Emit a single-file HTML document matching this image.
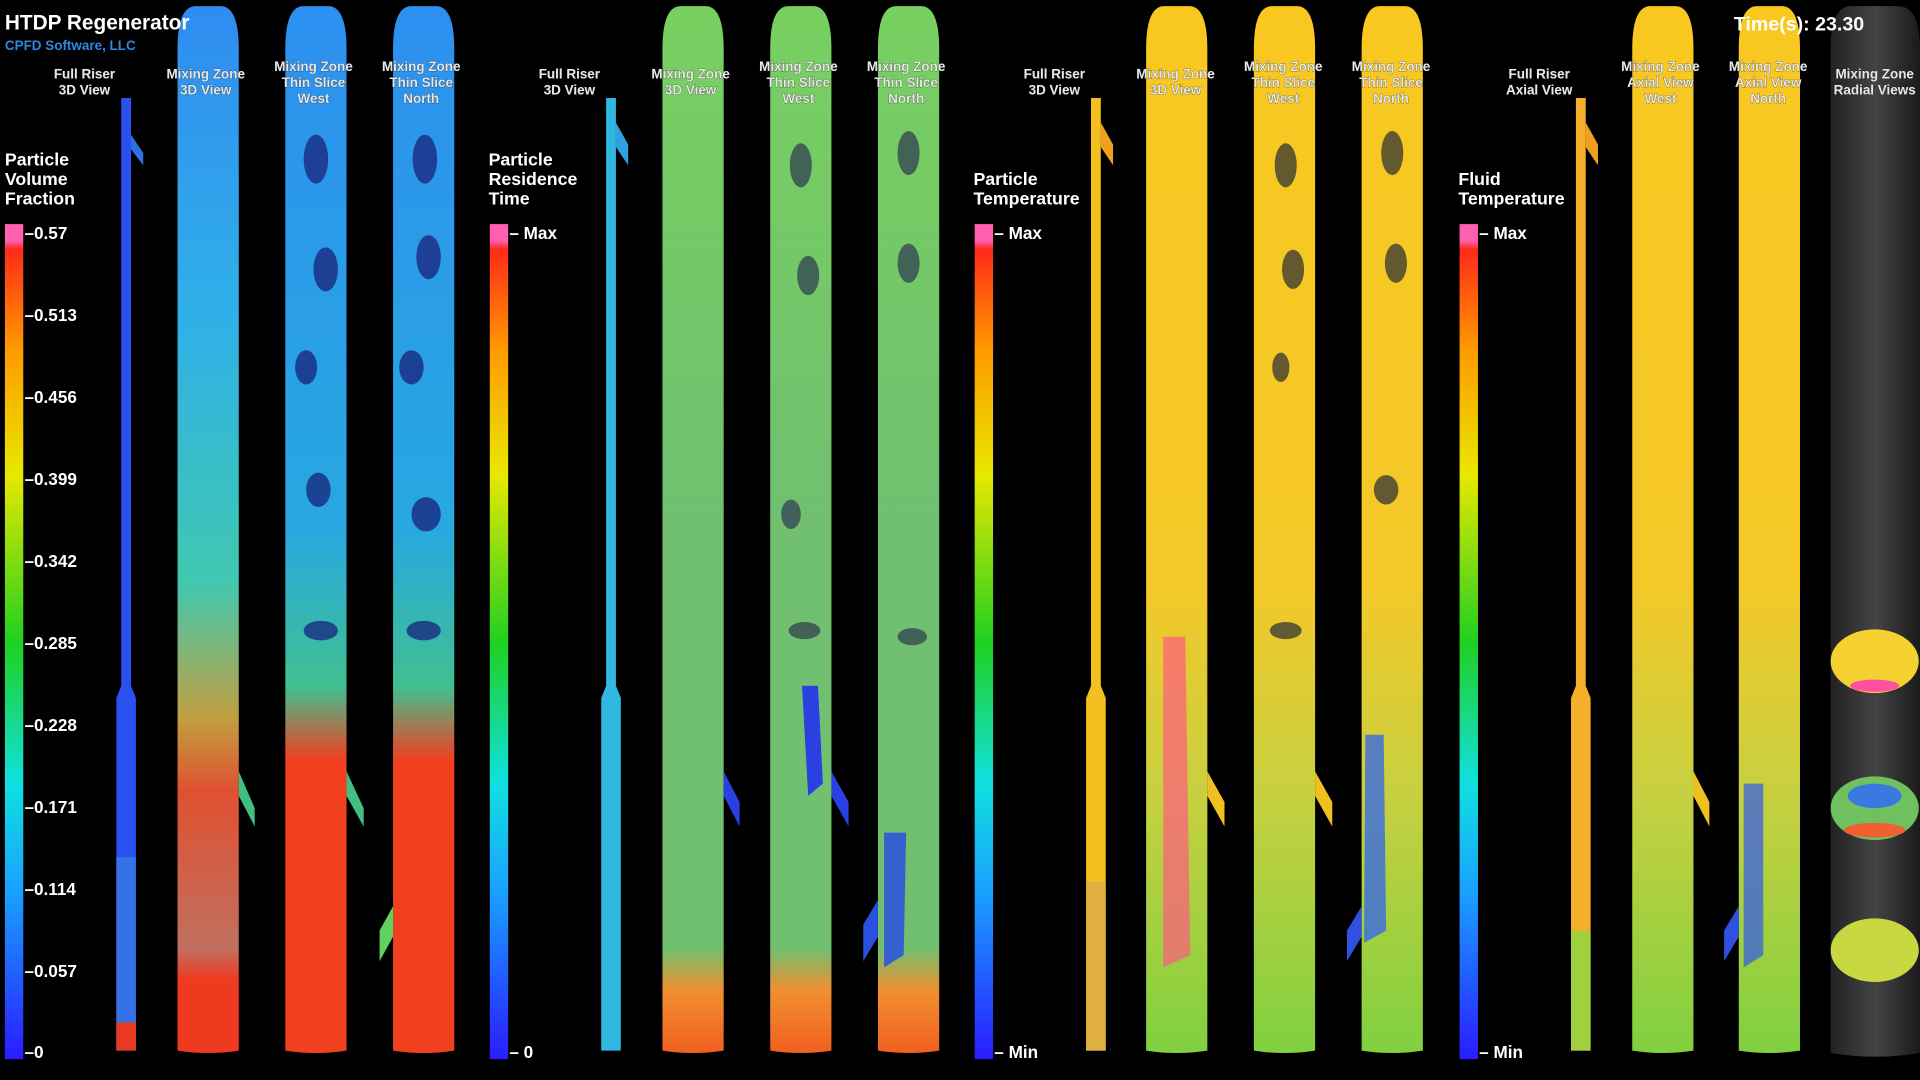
<!DOCTYPE html>
<html><head><meta charset="utf-8"><style>
html,body{margin:0;padding:0;background:#000;width:1920px;height:1080px;overflow:hidden}
svg{display:block}
text{font-family:"Liberation Sans",sans-serif;font-weight:bold;fill:#fff}
.l{font-size:11px;fill:#e8e8e8;text-anchor:middle;stroke:#222;stroke-width:0.4px;paint-order:stroke}
.t{font-size:14.5px}
.k{font-size:14px}
</style></head><body>
<svg width="1920" height="1080" viewBox="0 0 1568 882" preserveAspectRatio="none" xmlns="http://www.w3.org/2000/svg">
<defs>
<linearGradient id="cb" x1="0" y1="1" x2="0" y2="0">
<stop offset="0" stop-color="#2a1cff"/><stop offset="0.2" stop-color="#1aa0ff"/><stop offset="0.33" stop-color="#10e0e0"/><stop offset="0.5" stop-color="#20d020"/><stop offset="0.7" stop-color="#e8e800"/><stop offset="0.85" stop-color="#ff9a00"/><stop offset="0.97" stop-color="#ff2a1a"/><stop offset="0.98" stop-color="#ff60b0"/><stop offset="1" stop-color="#ff60b0"/>
</linearGradient>
<linearGradient id="g1a" x1="0" y1="0" x2="0" y2="1">
<stop offset="0" stop-color="#2f8cf0"/><stop offset="0.3" stop-color="#30b0e8"/><stop offset="0.55" stop-color="#40c8b0"/><stop offset="0.68" stop-color="#c0a040"/><stop offset="0.75" stop-color="#e05030"/><stop offset="0.9" stop-color="#c07060"/><stop offset="0.93" stop-color="#f03a20"/><stop offset="1" stop-color="#f03a20"/>
</linearGradient>
<linearGradient id="g1b" x1="0" y1="0" x2="0" y2="1">
<stop offset="0" stop-color="#2c90f0"/><stop offset="0.5" stop-color="#28a8e0"/><stop offset="0.65" stop-color="#40c090"/><stop offset="0.72" stop-color="#f04020"/><stop offset="1" stop-color="#f04020"/>
</linearGradient>
<linearGradient id="g2" x1="0" y1="0" x2="0" y2="1">
<stop offset="0" stop-color="#78d060"/><stop offset="0.5" stop-color="#70c070"/><stop offset="0.9" stop-color="#70c070"/><stop offset="0.94" stop-color="#f09030"/><stop offset="1" stop-color="#f06020"/>
</linearGradient>
<linearGradient id="g3" x1="0" y1="0" x2="0" y2="1">
<stop offset="0" stop-color="#f8c820"/><stop offset="0.55" stop-color="#f4c828"/><stop offset="0.75" stop-color="#c8d040"/><stop offset="1" stop-color="#80d040"/>
</linearGradient>
<linearGradient id="rad" x1="0" y1="0" x2="1" y2="0">
<stop offset="0" stop-color="#222"/><stop offset="0.5" stop-color="#444"/><stop offset="1" stop-color="#1a1a1a"/>
</linearGradient>
</defs>
<rect width="1568" height="882" fill="#000"/>

<rect x="4" y="183" width="15" height="682" fill="url(#cb)"/>
<rect x="400" y="183" width="15" height="682" fill="url(#cb)"/>
<rect x="796" y="183" width="15" height="682" fill="url(#cb)"/>
<rect x="1192" y="183" width="15" height="682" fill="url(#cb)"/>

<!-- group 1 columns -->
<path d="M99 80 L107 80 L107 560 L111 570 L111 858 L95 858 L95 570 L99 560 Z" fill="#2a50f0"/>
<rect x="95" y="700" width="16" height="158" fill="#3a80e0" opacity=".7"/>
<rect x="95" y="835" width="16" height="23" fill="#e83a20"/>
<path d="M107 110 L117 125 L117 135 L107 122Z" fill="#3070e0"/>
<path d="M145 858 L145 40 Q145 5 160 5 L180 5 Q195 5 195 40 L195 858 Q170 862 145 858Z" fill="url(#g1a)"/>
<path d="M233 858 L233 40 Q233 5 248 5 L268 5 Q283 5 283 40 L283 858 Q258 862 233 858Z" fill="url(#g1b)"/>
<path d="M321 858 L321 40 Q321 5 336 5 L356 5 Q371 5 371 40 L371 858 Q346 862 321 858Z" fill="url(#g1b)"/>
<g fill="#1a2a80" opacity=".8">
<ellipse cx="258" cy="130" rx="10" ry="20"/><ellipse cx="266" cy="220" rx="10" ry="18"/><ellipse cx="250" cy="300" rx="9" ry="14"/><ellipse cx="260" cy="400" rx="10" ry="14"/><ellipse cx="262" cy="515" rx="14" ry="8"/>
<ellipse cx="347" cy="130" rx="10" ry="20"/><ellipse cx="350" cy="210" rx="10" ry="18"/><ellipse cx="336" cy="300" rx="10" ry="14"/><ellipse cx="348" cy="420" rx="12" ry="14"/><ellipse cx="346" cy="515" rx="14" ry="8"/>
</g>
<path d="M195 630 L208 660 L208 675 L195 650Z" fill="#40c080"/><path d="M283 630 L297 660 L297 675 L283 650Z" fill="#40c080"/><path d="M321 740 L310 760 L310 785 L321 765Z" fill="#60d060"/>

<!-- group 2 -->
<path d="M495 80 L503 80 L503 560 L507 570 L507 858 L491 858 L491 570 L495 560 Z" fill="#30b8e0"/>
<path d="M503 100 L513 118 L513 135 L503 120Z" fill="#30a0e0"/>
<path d="M541 858 L541 40 Q541 5 556 5 L576 5 Q591 5 591 40 L591 858 Q566 862 541 858Z" fill="url(#g2)"/>
<path d="M629 858 L629 40 Q629 5 644 5 L664 5 Q679 5 679 40 L679 858 Q654 862 629 858Z" fill="url(#g2)"/>
<path d="M717 858 L717 40 Q717 5 732 5 L752 5 Q767 5 767 40 L767 858 Q742 862 717 858Z" fill="url(#g2)"/>
<g fill="#304050" opacity=".75">
<ellipse cx="654" cy="135" rx="9" ry="18"/><ellipse cx="660" cy="225" rx="9" ry="16"/><ellipse cx="646" cy="420" rx="8" ry="12"/><ellipse cx="657" cy="515" rx="13" ry="7"/>
<ellipse cx="742" cy="125" rx="9" ry="18"/><ellipse cx="742" cy="215" rx="9" ry="16"/><ellipse cx="745" cy="520" rx="12" ry="7"/>
</g>
<path d="M655 560 L668 560 L672 640 L660 650Z" fill="#2a40e0"/>
<path d="M722 680 L740 680 L738 780 L722 790Z" fill="#2a50e0" opacity=".85"/>
<path d="M591 630 L604 655 L604 675 L591 650Z" fill="#2a40e0"/><path d="M679 630 L693 655 L693 675 L679 650Z" fill="#2a40e0"/><path d="M717 735 L705 755 L705 785 L717 765Z" fill="#2a50e0"/>

<!-- group 3 -->
<path d="M891 80 L899 80 L899 560 L903 570 L903 858 L887 858 L887 570 L891 560 Z" fill="#f4c020"/>
<rect x="887" y="720" width="16" height="138" fill="#e0b040"/>
<path d="M899 100 L909 118 L909 135 L899 120Z" fill="#f0a020"/>
<path d="M936 858 L936 40 Q936 5 951 5 L971 5 Q986 5 986 40 L986 858 Q961 862 936 858Z" fill="url(#g3)"/>
<path d="M1024 858 L1024 40 Q1024 5 1039 5 L1059 5 Q1074 5 1074 40 L1074 858 Q1049 862 1024 858Z" fill="url(#g3)"/>
<path d="M1112 858 L1112 40 Q1112 5 1127 5 L1147 5 Q1162 5 1162 40 L1162 858 Q1137 862 1112 858Z" fill="url(#g3)"/>
<path d="M950 520 L968 520 L972 780 L950 790Z" fill="#ff5a80" opacity=".7"/>
<g fill="#333" opacity=".75">
<ellipse cx="1050" cy="135" rx="9" ry="18"/><ellipse cx="1056" cy="220" rx="9" ry="16"/><ellipse cx="1046" cy="300" rx="7" ry="12"/><ellipse cx="1050" cy="515" rx="13" ry="7"/>
<ellipse cx="1137" cy="125" rx="9" ry="18"/><ellipse cx="1140" cy="215" rx="9" ry="16"/><ellipse cx="1132" cy="400" rx="10" ry="12"/>
</g>
<path d="M1115 600 L1130 600 L1132 760 L1114 770Z" fill="#3a6ae0" opacity=".8"/>
<path d="M986 630 L1000 655 L1000 675 L986 650Z" fill="#f0c020"/><path d="M1074 630 L1088 655 L1088 675 L1074 650Z" fill="#f0c020"/><path d="M1112 740 L1100 760 L1100 785 L1112 765Z" fill="#3050e0"/>

<!-- group 4 -->
<path d="M1287 80 L1295 80 L1295 560 L1299 570 L1299 858 L1283 858 L1283 570 L1287 560 Z" fill="#f4b028"/>
<rect x="1283" y="760" width="16" height="98" fill="#a0d040"/>
<path d="M1295 100 L1305 118 L1305 135 L1295 120Z" fill="#f0a020"/>
<path d="M1333 858 L1333 40 Q1333 5 1348 5 L1368 5 Q1383 5 1383 40 L1383 858 Q1358 862 1333 858Z" fill="url(#g3)"/>
<path d="M1420 858 L1420 40 Q1420 5 1435 5 L1455 5 Q1470 5 1470 40 L1470 858 Q1445 862 1420 858Z" fill="url(#g3)"/>
<path d="M1424 640 L1440 640 L1440 780 L1424 790Z" fill="#3a60e0" opacity=".75"/>
<path d="M1383 630 L1396 655 L1396 675 L1383 650Z" fill="#f0c020"/><path d="M1420 740 L1408 760 L1408 785 L1420 765Z" fill="#3050e0"/>
<path d="M1495 860 L1495 40 Q1495 5 1512 5 L1550 5 Q1568 5 1568 40 L1568 860 Q1531 866 1495 860Z" fill="url(#rad)"/>
<ellipse cx="1531" cy="540" rx="36" ry="26" fill="#f4d030"/><ellipse cx="1531" cy="560" rx="20" ry="5" fill="#ff50a0"/>
<ellipse cx="1531" cy="660" rx="36" ry="26" fill="#70c060"/><ellipse cx="1531" cy="650" rx="22" ry="10" fill="#3a7ae0"/><ellipse cx="1531" cy="678" rx="25" ry="6" fill="#f06030"/>
<ellipse cx="1531" cy="776" rx="36" ry="26" fill="#c8d840"/>

<!-- text on top -->
<text x="4" y="24" style="font-size:17px">HTDP Regenerator</text>
<text x="4" y="41" style="font-size:11px;fill:#2a8ae0">CPFD Software, LLC</text>
<text x="1416" y="25" style="font-size:16px">Time(s): 23.30</text>

<text x="4" y="135" class="t">Particle</text><text x="4" y="151" class="t">Volume</text><text x="4" y="167" class="t">Fraction</text>
<text x="20" y="195" class="k">–0.57</text><text x="20" y="262" class="k">–0.513</text><text x="20" y="329" class="k">–0.456</text><text x="20" y="396" class="k">–0.399</text><text x="20" y="463" class="k">–0.342</text><text x="20" y="530" class="k">–0.285</text><text x="20" y="597" class="k">–0.228</text><text x="20" y="664" class="k">–0.171</text><text x="20" y="731" class="k">–0.114</text><text x="20" y="798" class="k">–0.057</text><text x="20" y="864" class="k">–0</text>
<text x="399" y="135" class="t">Particle</text><text x="399" y="151" class="t">Residence</text><text x="399" y="167" class="t">Time</text>
<text x="416" y="195" class="k">– Max</text><text x="416" y="864" class="k">– 0</text>
<text x="795" y="151" class="t">Particle</text><text x="795" y="167" class="t">Temperature</text>
<text x="812" y="195" class="k">– Max</text><text x="812" y="864" class="k">– Min</text>
<text x="1191" y="151" class="t">Fluid</text><text x="1191" y="167" class="t">Temperature</text>
<text x="1208" y="195" class="k">– Max</text><text x="1208" y="864" class="k">– Min</text>

<text x="69" y="64" class="l">Full Riser</text><text x="69" y="77" class="l">3D View</text>
<text x="168" y="64" class="l">Mixing Zone</text><text x="168" y="77" class="l">3D View</text>
<text x="256" y="58" class="l">Mixing Zone</text><text x="256" y="71" class="l">Thin Slice</text><text x="256" y="84" class="l">West</text>
<text x="344" y="58" class="l">Mixing Zone</text><text x="344" y="71" class="l">Thin Slice</text><text x="344" y="84" class="l">North</text>
<text x="465" y="64" class="l">Full Riser</text><text x="465" y="77" class="l">3D View</text>
<text x="564" y="64" class="l">Mixing Zone</text><text x="564" y="77" class="l">3D View</text>
<text x="652" y="58" class="l">Mixing Zone</text><text x="652" y="71" class="l">Thin Slice</text><text x="652" y="84" class="l">West</text>
<text x="740" y="58" class="l">Mixing Zone</text><text x="740" y="71" class="l">Thin Slice</text><text x="740" y="84" class="l">North</text>
<text x="861" y="64" class="l">Full Riser</text><text x="861" y="77" class="l">3D View</text>
<text x="960" y="64" class="l">Mixing Zone</text><text x="960" y="77" class="l">3D View</text>
<text x="1048" y="58" class="l">Mixing Zone</text><text x="1048" y="71" class="l">Thin Slice</text><text x="1048" y="84" class="l">West</text>
<text x="1136" y="58" class="l">Mixing Zone</text><text x="1136" y="71" class="l">Thin Slice</text><text x="1136" y="84" class="l">North</text>
<text x="1257" y="64" class="l">Full Riser</text><text x="1257" y="77" class="l">Axial View</text>
<text x="1356" y="58" class="l">Mixing Zone</text><text x="1356" y="71" class="l">Axial View</text><text x="1356" y="84" class="l">West</text>
<text x="1444" y="58" class="l">Mixing Zone</text><text x="1444" y="71" class="l">Axial View</text><text x="1444" y="84" class="l">North</text>
<text x="1531" y="64" class="l">Mixing Zone</text><text x="1531" y="77" class="l">Radial Views</text>
</svg>
</body></html>
